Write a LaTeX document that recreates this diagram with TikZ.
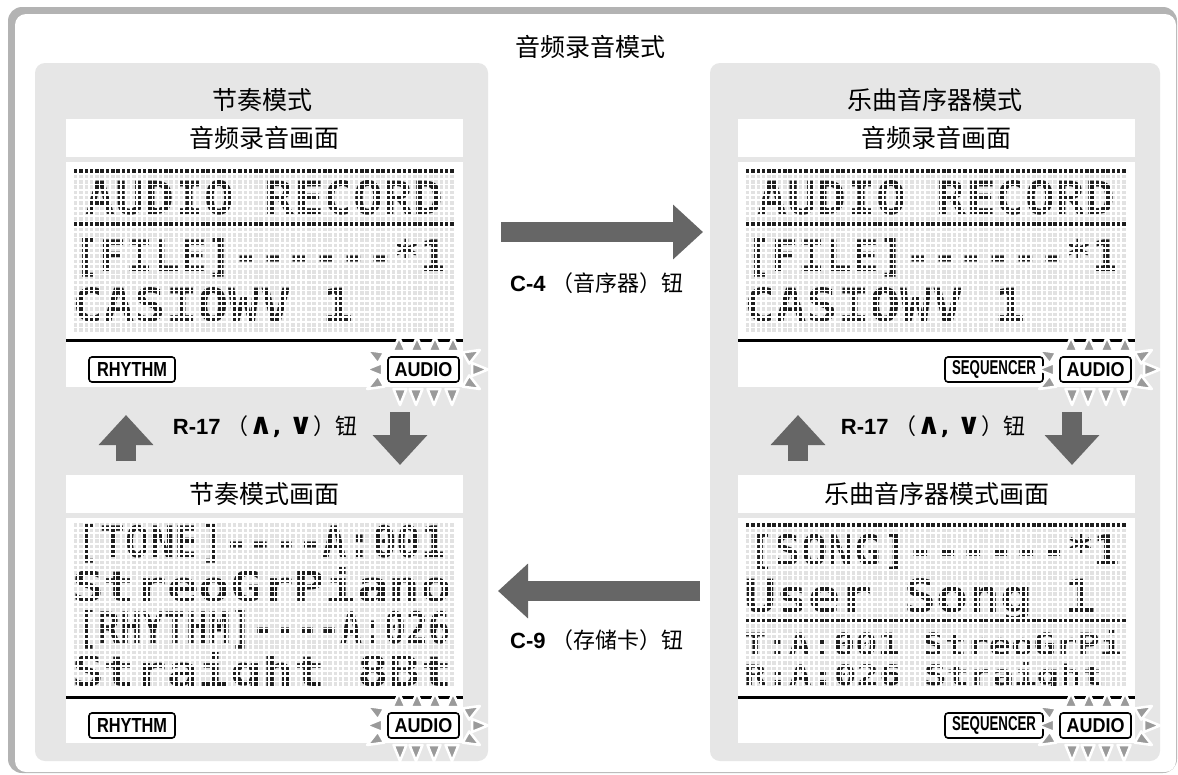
\documentclass[tikz,border=0pt]{standalone}
\usepackage{fontspec}
\usepackage{graphicx}
\setmainfont{Liberation Sans}
\newfontfamily\cjk{Noto Sans CJK SC}
\newfontfamily\lcdfont{DejaVu Sans Mono}
\newfontfamily\symfont{DejaVu Sans}
\usetikzlibrary{positioning,arrows.meta}
\definecolor{framegrey}{HTML}{B3B3B3}
\definecolor{panelgrey}{HTML}{E6E6E6}
\definecolor{arrowgrey}{HTML}{666666}
\definecolor{raygrey}{HTML}{9A9A9A}
\definecolor{lcdback}{HTML}{E2E2E2}
\definecolor{lcddot}{HTML}{1E1E1E}

\begin{document}
\begin{tikzpicture}[x=1pt,y=-1pt,
  panel/.style={fill=panelgrey,rounded corners=10pt},
  headtext/.style={font=\cjk\fontsize{25}{29}\selectfont,inner sep=0pt},
  keylabel/.style={font=\fontsize{22}{26}\selectfont,inner sep=0pt},
  lcdtxt/.style={anchor=north west,inner sep=0pt,text=lcddot,font=\lcdfont\bfseries},
  lcdgap/.style={draw=white,line width=1.8pt},
  lcdrule/.style={line width=3pt},
  modetag/.style={draw=black,line width=1.6pt,fill=white,rounded corners=3pt,minimum height=25pt,inner sep=0pt,font=\bfseries},
  ray/.style={fill=raygrey,draw=white,line width=2.5pt,line join=round},
  bigarrow/.style={draw=arrowgrey,line width=20pt,-{Triangle[length=30pt,width=53pt]}}
]
\useasboundingbox (0,0) rectangle (1178,774);
% outer frame
\fill[framegrey,rounded corners=14pt] (8,7) rectangle (1177,773);
\fill[white,rounded corners=11pt] (15,14) rectangle (1176,772);
\node[headtext] (maintitle) at (590,47) {音频录音模式};

% two mode panels
\fill[panel] (35,63) rectangle (488,761);
\fill[panel] (710,63) rectangle (1160,761);
\node[headtext] (hdrrhythm) at (262,100) {节奏模式};
\node[headtext] (hdrseq) at (935,100) {乐曲音序器模式};

% screen boxes
\foreach \sx in {66,738}{
  \fill[white] (\sx,119) rectangle ++(397,38);
  \fill[white] (\sx,162) rectangle ++(397,225);
  \fill[white] (\sx,475) rectangle ++(397,38);
  \fill[white] (\sx,518) rectangle ++(397,225);
}
\node[headtext] (scrrecA) at (264.5,138) {音频录音画面};
\node[headtext] (scrrecB) at (936.5,138) {音频录音画面};
\node[headtext] (scrrhythm) at (264.5,494) {节奏模式画面};
\node[headtext] (scrseq) at (936.5,494) {乐曲音序器模式画面};

% LCD: audio record (left)
\begin{scope}
  \clip (73,168.5) rectangle ++(381.6,164.3);
  \fill[lcdback] (73,168.5) rectangle ++(381.6,164.3);
  \fill[lcddot] (73,168.5) rectangle ++(381.6,5.3);
  \fill[lcddot] (73,221.5) rectangle ++(381.6,5.3);
  \node[lcdtxt] (recA1) at (85,180) {\resizebox{358pt}{34pt}{AUDIO RECORD}};
  \node[lcdtxt] (recA2) at (73,238) {\resizebox{374pt}{33pt}{[FILE]------*1}};
  \node[lcdtxt] (recA3) at (72,287) {\resizebox{282pt}{34pt}{CASIOWV 1}};
\end{scope}
% LCD: audio record (right)
\begin{scope}
  \clip (745,168.5) rectangle ++(381.6,164.3);
  \fill[lcdback] (745,168.5) rectangle ++(381.6,164.3);
  \fill[lcddot] (745,168.5) rectangle ++(381.6,5.3);
  \fill[lcddot] (745,221.5) rectangle ++(381.6,5.3);
  \node[lcdtxt] (recB1) at (757,180) {\resizebox{358pt}{34pt}{AUDIO RECORD}};
  \node[lcdtxt] (recB2) at (745,238) {\resizebox{374pt}{33pt}{[FILE]------*1}};
  \node[lcdtxt] (recB3) at (744,287) {\resizebox{282pt}{34pt}{CASIOWV 1}};
\end{scope}
% LCD: rhythm mode
\begin{scope}
  \clip (73,522.5) rectangle ++(381.6,164.3);
  \fill[lcdback] (73,522.5) rectangle ++(381.6,164.3);
  \node[lcdtxt] (rhyA1) at (76,524) {\resizebox{370pt}{33pt}{[TONE]----A:001}};
  \node[lcdtxt] (rhyA2) at (72,567) {\resizebox{380pt}{34pt}{StreoGrPiano}};
  \node[lcdtxt] (rhyA3) at (76,610) {\resizebox{374pt}{33pt}{[RHYTHM]----A:026}};
  \node[lcdtxt] (rhyA4) at (72,652) {\resizebox{380pt}{34pt}{Straight 8Bt}};
\end{scope}
% LCD: song sequencer mode
\begin{scope}
  \clip (745,522.5) rectangle ++(381.6,164.3);
  \fill[lcdback] (745,522.5) rectangle ++(381.6,164.3);
  \fill[lcddot] (745,522.5) rectangle ++(381.6,5.3);
  \fill[lcddot] (745,617.9) rectangle ++(381.6,5.3);
  \node[lcdtxt] (seqB1) at (748,533) {\resizebox{372pt}{32pt}{[SONG]------*1}};
  \node[lcdtxt] (seqB2) at (744,578) {\resizebox{352pt}{34pt}{User Song 1}};
  \node[lcdtxt] (seqB3) at (744,630) {\resizebox{378pt}{25pt}{T:A:001 StreoGrPi}};
  \node[lcdtxt] (seqB4) at (744,662) {\resizebox{360pt}{23pt}{R:A:026 Straight}};
\end{scope}

% dot matrix gaps
\foreach \gx/\gy in {73/168.5,745/168.5,73/522.5,745/522.5}{
  \foreach \k in {0,...,72}
    \draw[lcdgap] ({\gx+\k*5.3},\gy) -- ++(0,164.3);
  \foreach \k in {0,...,31}
    \draw[lcdgap] (\gx,{\gy+\k*5.3}) -- ++(381.6,0);
}

% rules under the LCD
\foreach \sx in {66,738}{
  \draw[lcdrule] (\sx,340) -- ++(397,0);
  \draw[lcdrule] (\sx,697) -- ++(397,0);
}

% mode indicators
\node[modetag,minimum width=86pt] (rhytagA) at (132,369.5) {\resizebox{70pt}{14pt}{RHYTHM}};
\node[modetag,minimum width=86pt] (rhytagB) at (132,725.5) {\resizebox{70pt}{14pt}{RHYTHM}};
\node[modetag,minimum width=98pt] (seqtagA) at (994,369.5) {\resizebox{84pt}{14pt}{SEQUENCER}};
\node[modetag,minimum width=98pt] (seqtagB) at (994,725.5) {\resizebox{84pt}{14pt}{SEQUENCER}};

% flashing marks round AUDIO
\foreach \bx/\by in {388/357,1060/357,388/713,1060/713}{
  \begin{scope}[shift={(\bx,\by)}]
    \foreach \rx/\ry/\ra/\rl in {11/-6/90/14,29/-6/90/14,47/-6/90/14,65/-6/90/14,
        12/32/270/16,28/32/270/16,46/32/270/16,64/32/270/16,
        -6/12.5/180/16,84/12.5/0/16,-7/1/150/16,-7/24/210/16,78/1/30/16,78/24/330/16}
      \path[ray,shift={(\rx,\ry)},rotate=\ra] (0,-6.5) -- (\rl,0) -- (0,6.5) -- cycle;
  \end{scope}
}
\node[modetag,minimum width=71pt] (audtagA) at (423.5,369.5) {\resizebox{58pt}{14pt}{AUDIO}};
\node[modetag,minimum width=71pt] (audtagB) at (1095.5,369.5) {\resizebox{58pt}{14pt}{AUDIO}};
\node[modetag,minimum width=71pt] (audtagC) at (423.5,725.5) {\resizebox{58pt}{14pt}{AUDIO}};
\node[modetag,minimum width=71pt] (audtagD) at (1095.5,725.5) {\resizebox{58pt}{14pt}{AUDIO}};

% switching arrows
\coordinate (c4from) at (501,232);
\coordinate (c4to) at (703,232);
\coordinate (c9from) at (700,591);
\coordinate (c9to) at (498,591);
\draw[bigarrow] (c4from) -- (c4to);
\draw[bigarrow] (c9from) -- (c9to);
\node[keylabel] (keyc4) at (597,283) {\textbf{C-4} {\cjk （音序器）钮}};
\node[keylabel] (keyc9) at (597,640) {\textbf{C-9} {\cjk （存储卡）钮}};

\foreach \ux/\side in {126/A,798/B}{
  \coordinate (up\side from) at (\ux,461);
  \coordinate (up\side to) at (\ux,415);
  \coordinate (dn\side from) at ({\ux+274},412);
  \coordinate (dn\side to) at ({\ux+274},465);
  \draw[bigarrow] (up\side from) -- (up\side to);
  \draw[bigarrow] (dn\side from) -- (dn\side to);
}
\node[keylabel] (keyr17A) at (265,427) {\textbf{R-17} {\cjk （}{\symfont\bfseries\scalebox{1.35}{∧}, \scalebox{1.35}{∨}}{\cjk ）钮}};
\node[keylabel] (keyr17B) at (933,427) {\textbf{R-17} {\cjk （}{\symfont\bfseries\scalebox{1.35}{∧}, \scalebox{1.35}{∨}}{\cjk ）钮}};
\end{tikzpicture}
\end{document}
